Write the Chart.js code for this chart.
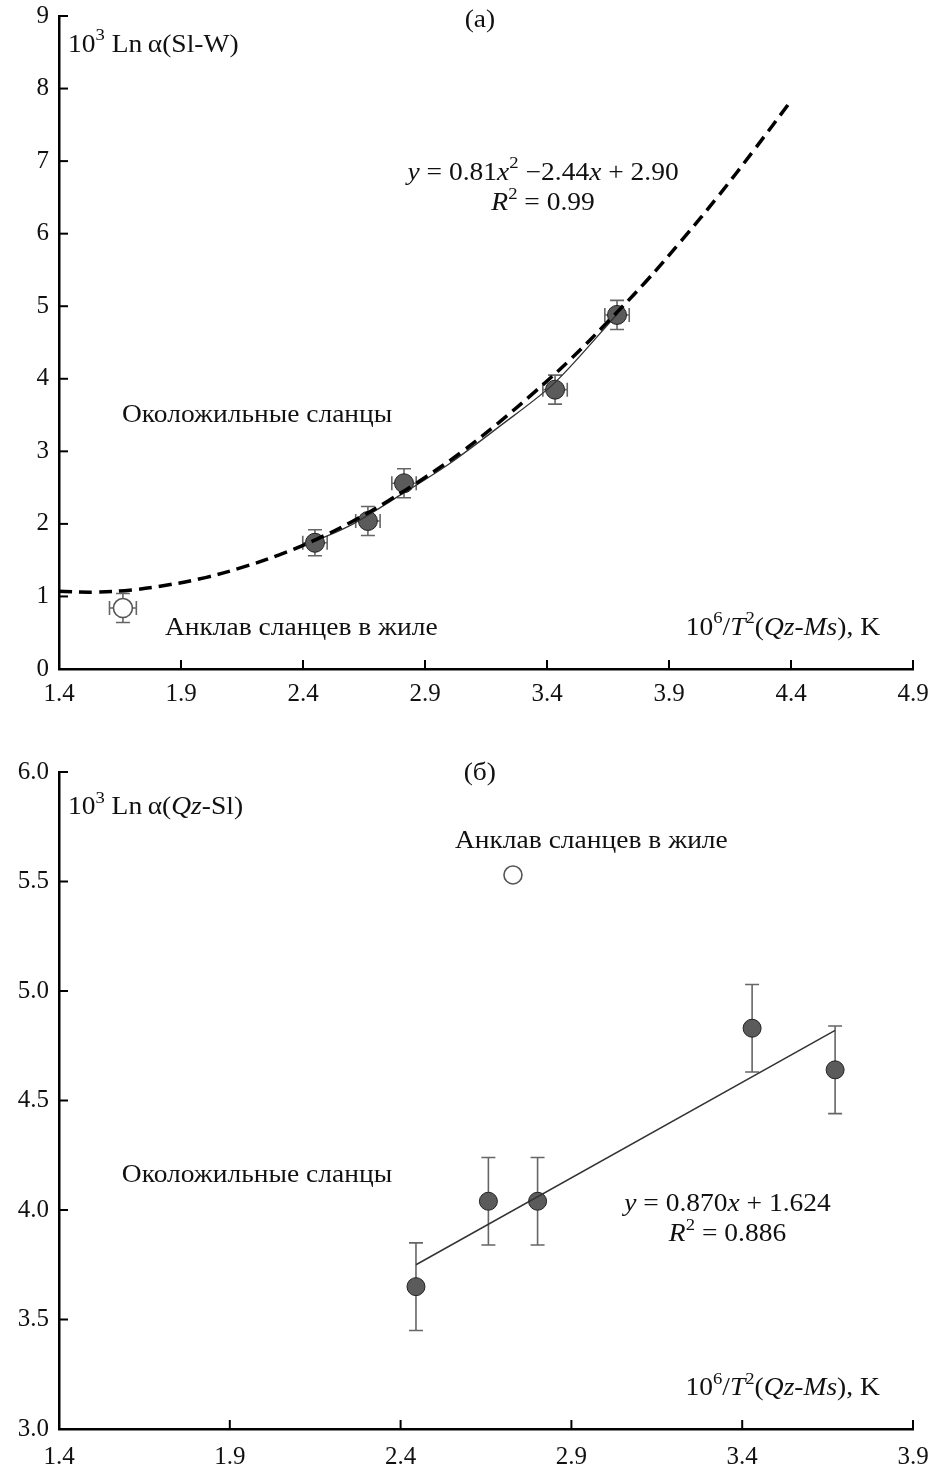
<!DOCTYPE html>
<html>
<head>
<meta charset="utf-8">
<script src="https://cdn.jsdelivr.net/npm/chart.js@4.4.1/dist/chart.umd.min.js"></script>
<style>
  body { margin: 0; background: #fff; width: 933px; height: 1468px; position: relative; overflow: hidden; }
  canvas { position: absolute; left: 0; }
  #chartA { top: 0; }
  #chartB { top: 740px; }
</style>
</head>
<body>
<canvas id="chartA" width="933" height="740"></canvas>
<canvas id="chartB" width="933" height="728"></canvas>
<script>
// ---- panel (a): 10^3 Ln a(Sl-W) vs 10^6/T^2 ----
const xTicksA = [1.4, 1.9, 2.4, 2.9, 3.4, 3.9, 4.4, 4.9];
const yTicksA = [0, 1, 2, 3, 4, 5, 6, 7, 8, 9];

const slateXA = [2.449, 2.666, 2.814, 3.433, 3.687];
const slateYA = [1.74, 2.04, 2.56, 3.85, 4.88];
const slateErrXA = [0.05, 0.05, 0.05, 0.05, 0.05];
const slateErrYA = [0.18, 0.2, 0.2, 0.2, 0.2];

const enclaveXA = [1.662];
const enclaveYA = [0.84];
const enclaveErrXA = [0.055];
const enclaveErrYA = [0.2];

// dashed fit curve
const fitXA = [1.40, 1.55, 1.70, 1.85, 2.00, 2.15, 2.30, 2.45, 2.60, 2.75, 2.90, 3.05, 3.20, 3.35, 3.50, 3.65, 3.80, 3.95, 4.10, 4.25, 4.40];
const fitYA = [1.07, 1.06, 1.09, 1.16, 1.26, 1.40, 1.57, 1.78, 2.03, 2.32, 2.64, 2.99, 3.39, 3.82, 4.28, 4.79, 5.32, 5.90, 6.51, 7.16, 7.83];

// thin solid line through the slate points
const thinXA = [2.45, 2.60, 2.80, 3.00, 3.20, 3.43, 3.69];
const thinYA = [1.76, 1.99, 2.40, 2.83, 3.33, 3.94, 4.90];

// ---- panel (б): 10^3 Ln a(Qz-Sl) vs 10^6/T^2 ----
const xTicksB = [1.4, 1.9, 2.4, 2.9, 3.4, 3.9];
const yTicksB = [3.0, 3.5, 4.0, 4.5, 5.0, 5.5, 6.0];

const slateXB = [2.445, 2.657, 2.801, 3.429, 3.672];
const slateYB = [3.65, 4.04, 4.04, 4.83, 4.64];
const slateErrYB = [0.2, 0.2, 0.2, 0.2, 0.2];

const enclaveXB = [2.729];
const enclaveYB = [5.53];

const lineXB = [2.445, 3.672];
const lineYB = [3.75, 4.82];

// ---- helpers ----
const serif = '"Liberation Serif", "Times New Roman", serif';
const pts = (xs, ys) => xs.map((x, i) => ({ x, y: ys[i] }));
const P = t => ({ t });
const I = t => ({ t, i: true });
const S = t => ({ t, sup: true });

function runFont(r, size) {
  return (r.i ? 'italic ' : '') + Math.round(r.sup ? size * 0.66 : size) + 'px ' + serif;
}

// the scanned figure is a bit wider than plain Times, so stretch text horizontally
const stretch = 1.1;

function drawRuns(ctx, runs, x, y, align, size) {
  let total = 0;
  runs.forEach(r => { ctx.font = runFont(r, size); total += ctx.measureText(r.t).width * stretch; });
  let cx = align === 'center' ? x - total / 2 : align === 'right' ? x - total : x;
  ctx.textAlign = 'left';
  ctx.textBaseline = 'middle';
  runs.forEach(r => {
    ctx.font = runFont(r, size);
    ctx.save();
    ctx.translate(cx, r.sup ? y - size * 0.36 : y);
    ctx.scale(stretch, 1);
    ctx.fillText(r.t, 0, 0);
    ctx.restore();
    cx += ctx.measureText(r.t).width * stretch;
  });
}

const decor = {
  id: 'decor',
  beforeDatasetsDraw(chart) {
    const { ctx, scales: { x, y } } = chart;
    ctx.save();
    ctx.strokeStyle = '#666';
    ctx.lineWidth = 1.6;
    const cap = 7;
    chart.data.datasets.forEach(ds => {
      if (!ds.errY && !ds.errX) return;
      ds.data.forEach((p, i) => {
        const px = x.getPixelForValue(p.x), py = y.getPixelForValue(p.y);
        if (ds.errY) {
          const t = y.getPixelForValue(p.y + ds.errY[i]), b = y.getPixelForValue(p.y - ds.errY[i]);
          ctx.beginPath();
          ctx.moveTo(px, t); ctx.lineTo(px, b);
          ctx.moveTo(px - cap, t); ctx.lineTo(px + cap, t);
          ctx.moveTo(px - cap, b); ctx.lineTo(px + cap, b);
          ctx.stroke();
        }
        if (ds.errX) {
          const l = x.getPixelForValue(p.x - ds.errX[i]), r = x.getPixelForValue(p.x + ds.errX[i]);
          ctx.beginPath();
          ctx.moveTo(l, py); ctx.lineTo(r, py);
          ctx.moveTo(l, py - cap); ctx.lineTo(l, py + cap);
          ctx.moveTo(r, py - cap); ctx.lineTo(r, py + cap);
          ctx.stroke();
        }
      });
    });
    ctx.restore();
  },
  afterDraw(chart, args, opts) {
    const { ctx, chartArea: a, scales: { x, y } } = chart;
    ctx.save();
    // inward tick marks
    ctx.strokeStyle = '#000';
    ctx.lineWidth = 2;
    x.ticks.forEach(t => {
      const px = x.getPixelForValue(t.value);
      ctx.beginPath(); ctx.moveTo(px, a.bottom); ctx.lineTo(px, a.bottom - 9); ctx.stroke();
    });
    y.ticks.forEach(t => {
      const py = y.getPixelForValue(t.value);
      ctx.beginPath(); ctx.moveTo(a.left, py); ctx.lineTo(a.left + 9, py); ctx.stroke();
    });
    // text notes
    ctx.fillStyle = '#111';
    (opts.notes || []).forEach(n => {
      drawRuns(ctx, n.runs, x.getPixelForValue(n.x), y.getPixelForValue(n.y), n.align || 'left', n.size || 25);
    });
    ctx.restore();
  }
};

function axes(xTicks, yTicks, yDec, xPad, fitH) {
  const font = { family: serif, size: 25 };
  return {
    x: {
      type: 'linear', min: xTicks[0], max: xTicks[xTicks.length - 1],
      afterBuildTicks: s => { s.ticks = xTicks.map(v => ({ value: v })); },
      afterFit: s => { s.height = fitH; s.paddingLeft = 0; s.paddingRight = 0; },
      grid: { display: false, drawTicks: false },
      border: { display: true, color: '#000', width: 2.5 },
      ticks: { color: '#111', font, padding: xPad, maxRotation: 0, callback: v => v.toFixed(1) }
    },
    y: {
      type: 'linear', min: yTicks[0], max: yTicks[yTicks.length - 1],
      afterBuildTicks: s => { s.ticks = yTicks.map(v => ({ value: v })); },
      afterFit: s => { s.width = 59; s.paddingTop = 0; s.paddingBottom = 0; },
      grid: { display: false, drawTicks: false },
      border: { display: true, color: '#000', width: 2.5 },
      ticks: { color: '#111', font, padding: 10, callback: v => v.toFixed(yDec) }
    }
  };
}

const markerFill = '#5b5b5b';

new Chart(document.getElementById('chartA'), {
  type: 'scatter',
  data: {
    datasets: [
      { data: pts(fitXA, fitYA), showLine: true, borderColor: '#000', borderWidth: 3.5, borderDash: [13, 7],
        pointRadius: 0, tension: 0.4, fill: false },
      { data: pts(thinXA, thinYA), showLine: true, borderColor: '#333', borderWidth: 1.3,
        pointRadius: 0, tension: 0.3, fill: false },
      { data: pts(slateXA, slateYA), errX: slateErrXA, errY: slateErrYA, pointRadius: 9.5,
        backgroundColor: markerFill, borderColor: '#222', borderWidth: 1 },
      { data: pts(enclaveXA, enclaveYA), errX: enclaveErrXA, errY: enclaveErrYA, pointRadius: 9.5,
        backgroundColor: '#fff', borderColor: '#555', borderWidth: 1.6 }
    ]
  },
  options: {
    responsive: false, animation: false,
    layout: { padding: { left: 0, top: 16, right: 20, bottom: 0 } },
    scales: axes(xTicksA, yTicksA, 0, 10, 71),
    plugins: {
      legend: { display: false }, tooltip: { enabled: false },
      decor: {
        notes: [
          { x: 3.125, y: 8.94, align: 'center', runs: [P('(a)')] },
          { x: 1.437, y: 8.6, runs: [P('10'), S('3'), P(' Ln\u2009α(Sl-W)')] },
          { x: 3.384, y: 6.836, align: 'center', runs: [I('y'), P(' = 0.81'), I('x'), S('2'), P(' −2.44'), I('x'), P(' + 2.90')] },
          { x: 3.384, y: 6.42, align: 'center', runs: [I('R'), S('2'), P(' = 0.99')] },
          { x: 1.658, y: 3.5, runs: [P('Околожильные сланцы')] },
          { x: 1.834, y: 0.565, runs: [P('Анклав сланцев в жиле')] },
          { x: 4.765, y: 0.565, align: 'right', runs: [P('10'), S('6'), P('/'), I('T'), S('2'), P('('), I('Qz'), P('-'), I('Ms'), P('), K')] }
        ]
      }
    }
  },
  plugins: [decor]
});

new Chart(document.getElementById('chartB'), {
  type: 'scatter',
  data: {
    datasets: [
      { data: pts(lineXB, lineYB), showLine: true, borderColor: '#333', borderWidth: 1.5,
        pointRadius: 0, fill: false },
      { data: pts(slateXB, slateYB), errY: slateErrYB, pointRadius: 9,
        backgroundColor: markerFill, borderColor: '#222', borderWidth: 1 },
      { data: pts(enclaveXB, enclaveYB), pointRadius: 9,
        backgroundColor: '#fff', borderColor: '#555', borderWidth: 1.6 }
    ]
  },
  options: {
    responsive: false, animation: false,
    layout: { padding: { left: 0, top: 32, right: 20, bottom: 0 } },
    scales: axes(xTicksB, yTicksB, 1, 13, 39),
    plugins: {
      legend: { display: false }, tooltip: { enabled: false },
      decor: {
        notes: [
          { x: 2.632, y: 5.995, align: 'center', runs: [P('(б)')] },
          { x: 1.426, y: 5.836, runs: [P('10'), S('3'), P(' Ln\u2009α('), I('Qz'), P('-Sl)')] },
          { x: 2.559, y: 5.685, runs: [P('Анклав сланцев в жиле')] },
          { x: 1.584, y: 4.16, runs: [P('Околожильные сланцы')] },
          { x: 3.357, y: 4.027, align: 'center', runs: [I('y'), P(' = 0.870'), I('x'), P(' + 1.624')] },
          { x: 3.357, y: 3.89, align: 'center', runs: [I('R'), S('2'), P(' = 0.886')] },
          { x: 3.803, y: 3.187, align: 'right', runs: [P('10'), S('6'), P('/'), I('T'), S('2'), P('('), I('Qz'), P('-'), I('Ms'), P('), K')] }
        ]
      }
    }
  },
  plugins: [decor]
});
</script>
</body>
</html>
